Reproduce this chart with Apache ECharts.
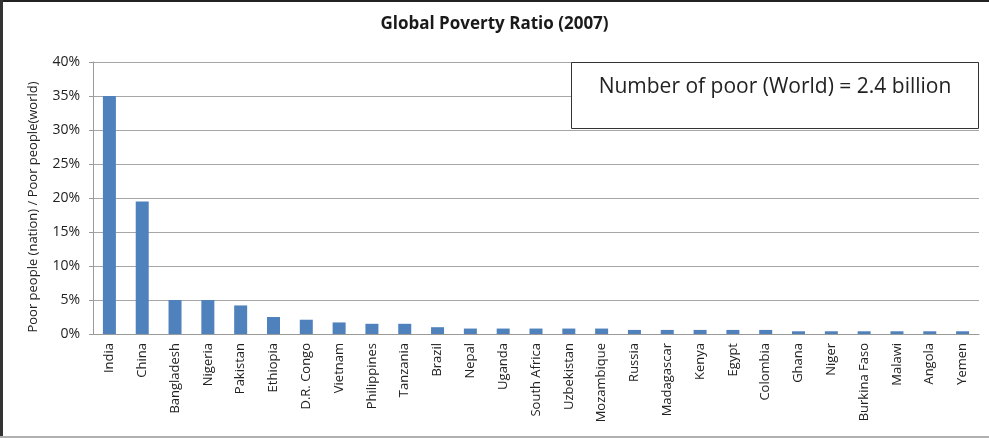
<!DOCTYPE html>
<html>
<head>
<meta charset="utf-8">
<script src="https://cdn.jsdelivr.net/npm/echarts@6/dist/echarts.min.js"></script>
<style>
  html, body { margin: 0; padding: 0; background: #fff; }
  #chart { width: 989px; height: 438px; }
</style>
</head>
<body>
<div id="chart"></div>
<script>
// Share of the world's poor living in each country, 2007 (%)
const countries = [
  'India', 'China', 'Bangladesh', 'Nigeria', 'Pakistan', 'Ethiopia', 'D.R. Congo',
  'Vietnam', 'Philippines', 'Tanzania', 'Brazil', 'Nepal', 'Uganda', 'South Africa',
  'Uzbekistan', 'Mozambique', 'Russia', 'Madagascar', 'Kenya', 'Egypt', 'Colombia',
  'Ghana', 'Niger', 'Burkina Faso', 'Malawi', 'Angola', 'Yemen'
];
const povertyShare = [
  35.0, 19.5, 5.0, 5.0, 4.2, 2.5, 2.1,
  1.7, 1.5, 1.5, 1.0, 0.8, 0.8, 0.8,
  0.8, 0.8, 0.6, 0.6, 0.6, 0.6, 0.6,
  0.4, 0.4, 0.4, 0.4, 0.4, 0.4
];
const yTicks = [0, 5, 10, 15, 20, 25, 30, 35, 40];
const chartTitle = 'Global Poverty Ratio (2007)';
const yAxisTitle = 'Poor people (nation) / Poor people(world)';
const noteText = 'Number of poor (World) = 2.4 billion';

const FONT = '"Open Sans", Lato, sans-serif';
const chart = echarts.init(document.getElementById('chart'), null, { renderer: 'canvas' });

chart.setOption({
  animation: false,
  backgroundColor: '#ffffff',
  title: {
    text: chartTitle,
    left: 'center',
    top: 11,
    textStyle: { fontFamily: FONT, fontSize: 17, fontWeight: 'bold', color: '#1a1a1a' }
  },
  grid: { left: 93, right: 10, top: 62, bottom: 104, containLabel: false },
  xAxis: {
    type: 'category',
    data: countries,
    axisLine: { show: true, lineStyle: { color: '#9a9a9a', width: 1 } },
    axisTick: { show: false },
    axisLabel: {
      rotate: 90,
      interval: 0,
      margin: 9,
      fontFamily: FONT,
      fontSize: 13,
      color: '#222'
    }
  },
  yAxis: {
    type: 'value',
    min: yTicks[0],
    max: yTicks[yTicks.length - 1],
    interval: 5,
    axisLine: { show: true, lineStyle: { color: '#9a9a9a', width: 1 } },
    axisTick: { show: true, length: 4, lineStyle: { color: '#9a9a9a' } },
    axisLabel: {
      formatter: v => v + '%',
      margin: 13,
      fontFamily: FONT,
      fontSize: 14,
      color: '#222'
    },
    splitLine: { show: true, lineStyle: { color: '#a6a6a6', width: 1 } }
  },
  series: [{
    type: 'bar',
    data: povertyShare,
    barWidth: 13,
    itemStyle: { color: '#4f81bd' }
  }],
  graphic: [
    // frame edges
    { type: 'rect', shape: { x: 0, y: 0, width: 989, height: 2 }, style: { fill: '#222' }, silent: true },
    { type: 'rect', shape: { x: 0, y: 0, width: 3, height: 438 }, style: { fill: '#333' }, silent: true },
    { type: 'rect', shape: { x: 0, y: 436, width: 989, height: 2 }, style: { fill: '#b0b0b0' }, silent: true },
    // vertical value-axis title
    {
      type: 'text',
      x: 33, y: 207,
      rotation: Math.PI / 2,
      style: {
        text: yAxisTitle,
        fill: '#222',
        font: '13px ' + FONT,
        textAlign: 'center',
        textVerticalAlign: 'middle'
      }
    },
    // note box
    {
      type: 'rect',
      shape: { x: 571.5, y: 62.5, width: 407, height: 66 },
      style: { fill: '#ffffff', stroke: '#333', lineWidth: 1 },
      z: 10
    },
    {
      type: 'text',
      x: 775, y: 87,
      style: {
        text: noteText,
        fill: '#222',
        font: '21px ' + FONT,
        textAlign: 'center',
        textVerticalAlign: 'middle'
      },
      z: 11
    }
  ]
});
</script>
</body>
</html>
